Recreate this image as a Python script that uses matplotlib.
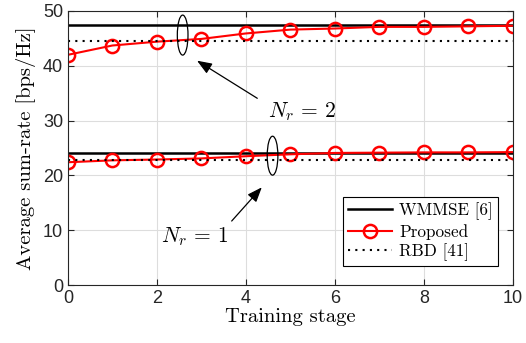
import numpy as np
import matplotlib
matplotlib.use("Agg")
import matplotlib.pyplot as plt
from matplotlib.patches import Ellipse

stages = np.arange(0, 11)

# N_r = 2
wmmse_2 = 47.4
rbd_2 = 44.5
proposed_2 = [42.0, 43.7, 44.4, 44.9, 45.9, 46.6, 46.8, 47.1, 47.1, 47.2, 47.3]

# N_r = 1
wmmse_1 = 24.1
rbd_1 = 22.75
proposed_1 = [22.4, 22.75, 22.9, 23.1, 23.5, 23.85, 24.1, 24.15, 24.2, 24.2, 24.25]

xticks = [0, 2, 4, 6, 8, 10]
yticks = [0, 10, 20, 30, 40, 50]

plt.rcParams['mathtext.fontset'] = 'cm'
serif = 'cmr10'

fig = plt.figure(figsize=(5.26, 3.43), dpi=100)
ax = fig.add_axes([0.129, 0.169, 0.846, 0.799])

ax.plot([0, 10], [wmmse_2, wmmse_2], color='k', lw=1.8, label='WMMSE [6]')
ax.plot(stages, proposed_2, color='r', lw=1.5, marker='o', ms=9.5,
        mfc='none', mew=1.8, label='Proposed')
ax.plot([0, 10], [rbd_2, rbd_2], color='k', lw=1.5, ls=(0, (1, 2.5)), label='RBD [41]')

ax.plot([0, 10], [wmmse_1, wmmse_1], color='k', lw=1.8)
ax.plot(stages, proposed_1, color='r', lw=1.5, marker='o', ms=9.5,
        mfc='none', mew=1.8)
ax.plot([0, 10], [rbd_1, rbd_1], color='k', lw=1.5, ls=(0, (1, 2.5)))

ax.add_patch(Ellipse((2.58, 45.6), 0.24, 7.3, fill=False, ec='k', lw=0.9, zorder=5))
ax.add_patch(Ellipse((4.6, 23.6), 0.24, 7.1, fill=False, ec='k', lw=0.9, zorder=5))

ax.annotate('', xy=(2.85, 41.2), xytext=(4.31, 33.8),
            arrowprops=dict(arrowstyle='-|>,head_length=0.9,head_width=0.35',
                            color='k', lw=0.9))
ax.text(4.49, 31.6, r'$N_r\,=\,2$', fontsize=15.5, va='center', ha='left')
ax.annotate('', xy=(4.4, 18.2), xytext=(3.64, 11.3),
            arrowprops=dict(arrowstyle='-|>,head_length=0.9,head_width=0.35',
                            color='k', lw=0.9))
ax.text(2.09, 8.8, r'$N_r\,=\,1$', fontsize=15.5, va='center', ha='left')

ax.set_xlim(0, 10)
ax.set_ylim(0, 50)
ax.set_xticks(xticks)
ax.set_yticks(yticks)
ax.grid(True, color='#dddddd', lw=0.8)
ax.set_axisbelow(True)
ax.tick_params(direction='in', length=4, labelsize=13, colors='#262626',
               top=True, right=True)
for lab in ax.get_xticklabels() + ax.get_yticklabels():
    lab.set_fontfamily('Liberation Sans')
for sp in ax.spines.values():
    sp.set_color('#262626')
    sp.set_linewidth(0.8)

ax.set_xlabel('Training stage', fontsize=14.8, family=serif, labelpad=1)
ax.set_ylabel('Average sum-rate [bps/Hz]', fontsize=14.8, family=serif, labelpad=5)

leg = ax.legend(loc='lower right', bbox_to_anchor=(0.966, 0.069),
                borderaxespad=0,
                prop={'family': serif, 'size': 12.3}, fancybox=False,
                edgecolor='k', framealpha=1, handlelength=2.6,
                borderpad=0.3, labelspacing=0.22, handletextpad=0.4)
leg.get_frame().set_linewidth(0.8)

fig.savefig('out.png', dpi=100)
